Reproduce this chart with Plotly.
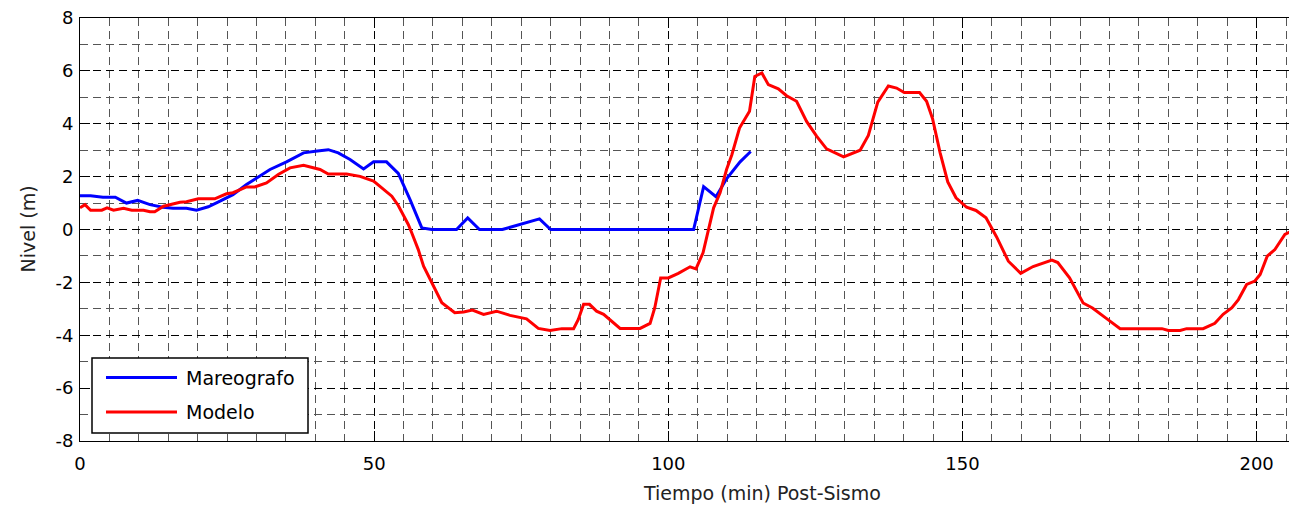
import plotly.graph_objects as go

# Mareografo (observed)
t_mareografo = [0, 1.8, 3.9, 6, 7.9, 9.8, 11.9, 14.1, 15.8, 18.1, 19.8, 21.8, 23.8, 26, 28.3, 30,
                32.3, 35.1, 38, 40, 42.2, 43.9, 45.9, 48.2, 49.9, 52.1, 54.1, 56.1, 58.1, 59.8,
                64, 65.9, 67.9, 71.8, 78.1, 80, 104.3, 106, 108.1, 109.9, 112.2, 114]
v_mareografo = [1.28, 1.28, 1.22, 1.22, 1.0, 1.1, 0.94, 0.84, 0.8, 0.8, 0.73, 0.86, 1.07, 1.32, 1.7, 1.93,
                2.27, 2.56, 2.9, 2.96, 3.02, 2.9, 2.65, 2.29, 2.56, 2.56, 2.12, 1.13, 0.06, 0.0,
                0.0, 0.44, 0.0, 0.0, 0.4, 0.0, 0.0, 1.62, 1.24, 1.92, 2.56, 2.95]

# Modelo (simulated)
t_modelo = [0, 0.85, 1.8, 3.7, 4.6, 5.7, 7.4, 8.8, 10.8, 11.9, 12.7, 14.2, 17, 18.1, 20.1, 22.9,
            24.9, 26, 28.3, 29.7, 31.7, 33.7, 35.7, 38, 40.8, 42.2, 45.3, 47.6, 49.9, 51.3, 53,
            54.1, 55.8, 56.4, 57.5, 58.4, 59.8, 61.5, 63.7, 65.2, 66.7, 68.6, 70.8, 73.1, 75.9,
            77.9, 79.9, 81.9, 83.9, 84.7, 85.6, 86.6, 87.8, 89, 91.8, 95.2, 96.9, 97.7, 98.7,
            100, 101.7, 103.7, 104.7, 105.9, 107.7, 108.8, 109.9, 110.8, 112.1, 113.8, 114.7,
            115.9, 117, 118.7, 120.1, 121.8, 123.5, 125.2, 126.9, 129.8, 132.6, 134, 135.6,
            137.4, 138.8, 140.1, 142.7, 143.9, 144.9, 146.2, 147.5, 148.9, 150.7, 152.3, 154,
            155.8, 157.8, 159.9, 162, 163.7, 165.2, 166.2, 168.2, 170.5, 172.1, 174.5, 176.8,
            183.9, 185, 187, 188.1, 190.9, 192.9, 194.3, 195.8, 196.9, 198.3, 199.7, 200.6,
            201.8, 203.1, 204.8, 205.6]
v_modelo = [0.82, 0.94, 0.73, 0.73, 0.82, 0.73, 0.8, 0.73, 0.73, 0.67, 0.67, 0.88, 1.03, 1.05, 1.16, 1.16,
            1.35, 1.39, 1.61, 1.61, 1.76, 2.08, 2.33, 2.43, 2.27, 2.1, 2.1, 2.01, 1.83, 1.57, 1.26,
            0.91, 0.19, -0.13, -0.76, -1.39, -2.02, -2.77, -3.15, -3.12, -3.05, -3.21, -3.09, -3.25, -3.38,
            -3.74, -3.82, -3.75, -3.75, -3.4, -2.83, -2.83, -3.09, -3.21, -3.74, -3.74, -3.55, -2.96, -1.83,
            -1.83, -1.66, -1.41, -1.49, -0.88, 0.82, 1.39, 2.27, 2.83, 3.84, 4.47, 5.79,
            5.92, 5.48, 5.32, 5.06, 4.85, 4.09, 3.53, 3.05, 2.75, 3.0, 3.56, 4.82,
            5.43, 5.35, 5.18, 5.18, 4.85, 4.2, 2.9, 1.8, 1.2, 0.84, 0.72, 0.44,
            -0.28, -1.2, -1.66, -1.4, -1.28, -1.16, -1.25, -1.83, -2.78, -2.97, -3.37, -3.75,
            -3.75, -3.82, -3.82, -3.75, -3.75, -3.55, -3.21, -2.96, -2.65, -2.08, -1.95, -1.7,
            -1.01, -0.76, -0.19, -0.1]

x_ticks = [0, 50, 100, 150, 200]
y_ticks = [-8, -6, -4, -2, 0, 2, 4, 6, 8]

FONT = "DejaVu Sans"
BLUE = "#0000FF"
RED = "#FF0000"

fig = go.Figure()
fig.add_trace(go.Scatter(x=t_mareografo, y=v_mareografo, mode="lines", name="Mareografo",
                         line=dict(color=BLUE, width=3), showlegend=False))
fig.add_trace(go.Scatter(x=t_modelo, y=v_modelo, mode="lines", name="Modelo",
                         line=dict(color=RED, width=3), showlegend=False))

W, H = 1289, 509
L, R, T, B = 80, 0, 18, 68

axis_common = dict(
    showline=True, linecolor="black", linewidth=1, mirror="allticks",
    ticks="inside", ticklen=10, tickwidth=1, tickcolor="black",
    showgrid=True, gridcolor="black", gridwidth=1, griddash="8px,5px",
    zeroline=False,
    tickfont=dict(family=FONT, size=18, color="black"),
)

fig.update_xaxes(range=[0, 205.5], tickvals=x_ticks, ticktext=[str(v) for v in x_ticks],
                 minor=dict(dtick=5, tick0=0, showgrid=True, gridcolor="#555555",
                            gridwidth=1, griddash="8px,5px", ticks=""),
                 ticklabelstandoff=6, **axis_common)
fig.update_yaxes(range=[-8, 8], tickvals=y_ticks, ticktext=[str(v) for v in y_ticks],
                 minor=dict(dtick=1, tick0=0, showgrid=True, gridcolor="#555555",
                            gridwidth=1, griddash="8px,5px", ticks=""),
                 ticklabelstandoff=2, **axis_common)

pw = W - L - R
ph = H - T - B

def px(xpix):
    return (xpix - L) / pw

def py(ypix):
    return (H - B - ypix) / ph

shapes = [
    dict(type="rect", xref="paper", yref="paper", x0=px(92), x1=px(308), y0=py(433), y1=py(358),
         line=dict(color="black", width=1.5), fillcolor="white", layer="above"),
    dict(type="line", xref="paper", yref="paper", x0=px(106), x1=px(177), y0=py(377.5), y1=py(377.5),
         line=dict(color=BLUE, width=3), layer="above"),
    dict(type="line", xref="paper", yref="paper", x0=px(106), x1=px(177), y0=py(412), y1=py(412),
         line=dict(color=RED, width=3), layer="above"),
]

annotations = [
    dict(text="Mareografo", xref="paper", yref="paper", x=px(184), y=py(377.5), xanchor="left",
         yanchor="middle", showarrow=False, font=dict(family=FONT, size=19, color="black")),
    dict(text="Modelo", xref="paper", yref="paper", x=px(184), y=py(412), xanchor="left",
         yanchor="middle", showarrow=False, font=dict(family=FONT, size=19, color="black")),
    dict(text="Tiempo (min) Post-Sismo", xref="paper", yref="paper", x=px(762), y=py(493),
         xanchor="center", yanchor="middle", showarrow=False,
         font=dict(family=FONT, size=19, color="#222222")),
    dict(text="Nivel (m)", xref="paper", yref="paper", x=px(27), y=py(229.5), textangle=-90,
         xanchor="center", yanchor="middle", showarrow=False,
         font=dict(family=FONT, size=19, color="#222222")),
]

fig.update_layout(
    width=W, height=H,
    margin=dict(l=L, r=R, t=T, b=B, pad=0),
    paper_bgcolor="white", plot_bgcolor="white",
    shapes=shapes, annotations=annotations,
    showlegend=False,
    font=dict(family=FONT, size=18, color="black"),
)

fig.write_html("out.html", config={"displayModeBar": False},
               post_script="document.body.style.margin='0';document.body.style.overflow='hidden';")
